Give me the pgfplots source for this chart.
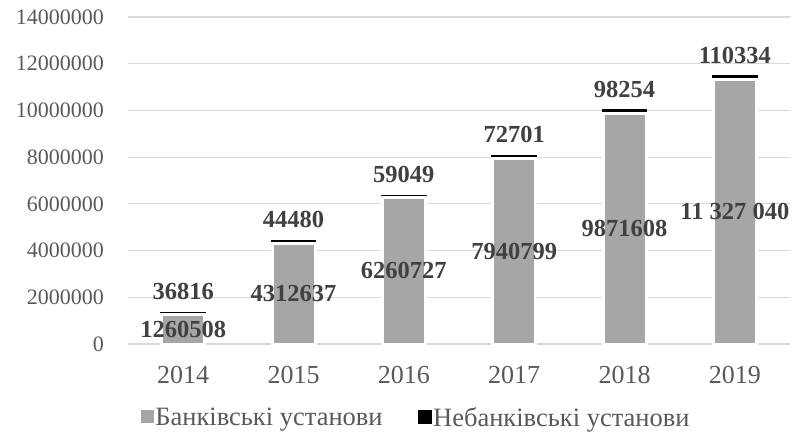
\documentclass[border=0pt]{standalone}
\usepackage{pgfplots}
\usepackage{pgfplotstable}
\pgfplotsset{compat=1.18}
\usepackage{fontspec}
\setmainfont{Liberation Serif}
\definecolor{barg}{HTML}{A6A6A6}
\definecolor{tickc}{HTML}{595959}
\definecolor{labc}{HTML}{404040}
\definecolor{gridc}{HTML}{D9D9D9}

\pgfplotstableread[col sep=comma]{
x,bank,nonbank,banklab,nonlab
0,1260508,36816,1260508,36816
1,4312637,44480,4312637,44480
2,6260727,59049,6260727,59049
3,7940799,72701,7940799,72701
4,9871608,98254,9871608,98254
5,11327040,110334,11 327 040,110334
}\datatable

\pgfplotsset{myax/.style={
  scale only axis, width=662pt, height=327pt,
  xmin=-0.5, xmax=5.5, ymin=0, ymax=14000000,
  scaled y ticks=false, scaled x ticks=false,
}}

\begin{document}
\begin{tikzpicture}
\begin{axis}[myax,
  ybar stacked,
  axis line style={draw=none},
  major tick length=0pt,
  ymajorgrids,
  grid style={gridc, line width=1.2pt},
  ytick={0,2000000,4000000,6000000,8000000,10000000,12000000,14000000},
  yticklabels={0,2000000,4000000,6000000,8000000,10000000,12000000,14000000},
  xtick={0,1,2,3,4,5},
  xticklabels={2014,2015,2016,2017,2018,2019},
  yticklabel style={font=\fontsize{22}{22}\selectfont, text=tickc, inner sep=0pt, anchor=east, xshift=-24pt},
  xticklabel style={font=\fontsize{26}{26}\selectfont, text=tickc, inner sep=0pt, anchor=north, yshift=-22pt},
  legend style={at={(0.435,-0.226)}, anchor=center, draw=none, fill=none,
    legend columns=2, font=\fontsize{26.5}{26.5}\selectfont, text=tickc,
    nodes={inner sep=1.5pt},
    /tikz/every even column/.append style={column sep=34pt},
    legend cell align=left},
]
\addplot[fill=barg, draw=white, line width=3pt, bar width=43pt,
  legend image code/.code={\fill[barg] (0pt,-4pt) rectangle (10pt,6pt);}]
  table[x=x, y=bank] {\datatable};
\addlegendentry{Банківські установи}
\addplot[fill=black, draw=black, line width=3.5pt, bar width=42pt,
  nodes near coords, point meta=explicit symbolic,
  every node near coord/.style={font=\bfseries\fontsize{24.5}{24.5}\selectfont, text=labc, anchor=south, inner sep=0pt, yshift=13pt},
  legend image code/.code={\fill[black] (0pt,-4pt) rectangle (10pt,6pt);}]
  table[x=x, y=nonbank, meta=nonlab] {\datatable};
\addlegendentry{Небанківські установи}
\end{axis}
\begin{axis}[myax, hide axis]
\addplot[draw=none, mark=none, nodes near coords, point meta=explicit symbolic,
  y filter/.expression={y/2},
  every node near coord/.style={font=\bfseries\fontsize{24.5}{24.5}\selectfont, text=labc, anchor=center, inner sep=0pt}]
  table[x=x, y=bank, meta=banklab] {\datatable};
\end{axis}
\pgfresetboundingbox
\path[use as bounding box] (current axis.south west) ++(-128pt,-88pt) rectangle ++(795pt,432pt);
\end{tikzpicture}
\end{document}
